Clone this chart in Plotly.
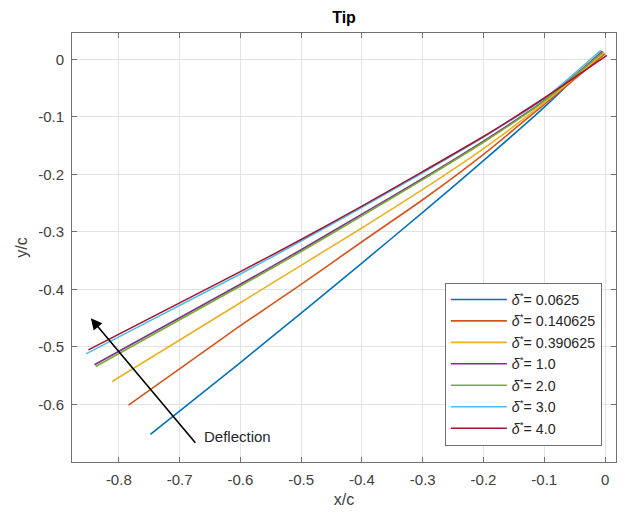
import plotly.graph_objects as go

labels = ["0.0625", "0.140625", "0.390625", "1.0", "2.0", "3.0", "4.0"]
colors = ["#0072BD", "#D95319", "#EDB120", "#7E2F8E", "#77AC30", "#4DBEEE", "#A2142F"]

x_0p0625 = [-0.748, -0.6, -0.5, -0.4, -0.3, -0.2, -0.1, -0.005]
y_0p0625 = [-0.652, -0.527, -0.441, -0.354, -0.266, -0.176, -0.083, 0.014]

x_0p140625 = [-0.784, -0.6, -0.5, -0.4, -0.3, -0.2, -0.1, 0.0]
y_0p140625 = [-0.601, -0.463, -0.391, -0.317, -0.244, -0.165, -0.078, 0.010]

x_0p390625 = [-0.811, -0.6, -0.5, -0.4, -0.3, -0.2, -0.1, -0.002]
y_0p390625 = [-0.560, -0.423, -0.358, -0.293, -0.226, -0.155, -0.075, 0.012]

x_1p0 = [-0.840, -0.6, -0.5, -0.4, -0.3, -0.2, -0.1, -0.004]
y_1p0 = [-0.531, -0.391, -0.331, -0.269, -0.207, -0.142, -0.071, 0.014]

x_2p0 = [-0.838, -0.6, -0.5, -0.4, -0.3, -0.2, -0.1, -0.003]
y_2p0 = [-0.534, -0.394, -0.334, -0.272, -0.209, -0.144, -0.072, 0.013]

x_3p0 = [-0.854, -0.6, -0.5, -0.4, -0.3, -0.2, -0.1, -0.007]
y_3p0 = [-0.512, -0.373, -0.316, -0.257, -0.197, -0.135, -0.068, 0.016]

x_4p0 = [-0.850, -0.6, -0.5, -0.4, -0.3, -0.2, -0.1, 0.003]
y_4p0 = [-0.505, -0.369, -0.313, -0.255, -0.195, -0.134, -0.067, 0.007]

series_x = [x_0p0625, x_0p140625, x_0p390625, x_1p0, x_2p0, x_3p0, x_4p0]
series_y = [y_0p0625, y_0p140625, y_0p390625, y_1p0, y_2p0, y_3p0, y_4p0]

x_ticks = [-0.8, -0.7, -0.6, -0.5, -0.4, -0.3, -0.2, -0.1, 0]
x_tick_text = ["-0.8", "-0.7", "-0.6", "-0.5", "-0.4", "-0.3", "-0.2", "-0.1", "0"]
y_ticks = [0, -0.1, -0.2, -0.3, -0.4, -0.5, -0.6]
y_tick_text = ["0", "-0.1", "-0.2", "-0.3", "-0.4", "-0.5", "-0.6"]

FONT = "Liberation Sans, Arial, Helvetica, sans-serif"

fig = go.Figure()
for lab, col, xs, ys in zip(labels, colors, series_x, series_y):
    fig.add_trace(go.Scatter(
        x=xs, y=ys, mode="lines",
        line=dict(color=col, width=1.6, shape="spline", smoothing=0.6),
        name="<i>δ</i><sup>*</sup>= " + lab,
    ))

fig.add_annotation(
    x=-0.846, y=-0.450, ax=-0.672, ay=-0.669,
    xref="x", yref="y", axref="x", ayref="y",
    showarrow=True, arrowhead=2, arrowsize=1.4, arrowwidth=1.6,
    arrowcolor="#000000", text="",
)
fig.add_annotation(
    x=-0.663, y=-0.655, xref="x", yref="y",
    text="Deflection", showarrow=False, xanchor="left", yanchor="middle",
    font=dict(family=FONT, size=15, color="#262626"),
)

axis_common = dict(
    showgrid=True, gridcolor="#e3e3e3", gridwidth=1,
    showline=True, linecolor="#707070", linewidth=1,
    ticks="inside", ticklen=5, tickcolor="#707070",
    mirror="allticks", zeroline=False,
    ticklabelstandoff=4,
    tickfont=dict(family=FONT, size=15, color="#404040"),
)

fig.update_xaxes(
    range=[-0.877, 0.018], tickvals=x_ticks, ticktext=x_tick_text,
    title=dict(text="x/c", font=dict(family=FONT, size=16, color="#404040"), standoff=6),
    **axis_common,
)
fig.update_yaxes(
    range=[-0.700, 0.046], tickvals=y_ticks, ticktext=y_tick_text,
    title=dict(text="y/c", font=dict(family=FONT, size=16, color="#404040"), standoff=6),
    **axis_common,
)

fig.update_layout(
    width=625, height=513,
    margin=dict(l=72, r=9, t=33, b=51),
    paper_bgcolor="white", plot_bgcolor="white",
    title=dict(text="<b>Tip</b>", x=0.5, xref="paper", xanchor="center",
               y=0.966, yanchor="middle",
               font=dict(family=FONT, size=16, color="#000000")),
    showlegend=True,
    legend=dict(
        x=0.974, y=0.038, xanchor="right", yanchor="bottom",
        bgcolor="white", bordercolor="#707070", borderwidth=1,
        font=dict(family=FONT, size=14.2, color="#262626"),
        itemwidth=56, tracegroupgap=0,
    ),
)

fig.write_html("out.html", config={"displayModeBar": False},
               post_script="document.body.style.margin='0';")
